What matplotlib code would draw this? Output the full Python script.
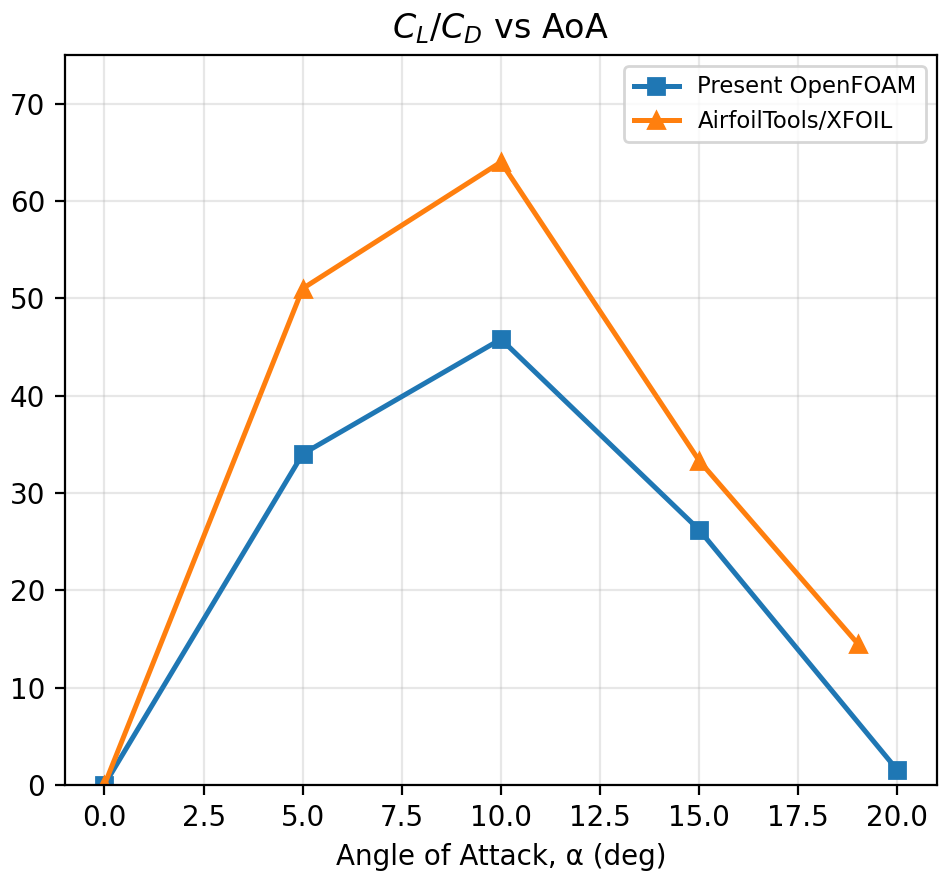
import matplotlib
matplotlib.use("Agg")
import matplotlib.pyplot as plt

aoa_foam = [0, 5, 10, 15, 20]
cl_cd_foam = [0.0, 34.0, 45.8, 26.2, 1.5]

aoa_xfoil = [0, 5, 10, 15, 19]
cl_cd_xfoil = [0.0, 51.0, 64.0, 33.3, 14.5]

fig = plt.figure(figsize=(9.39 / 2, 8.73 / 2), dpi=200)
ax = fig.add_axes([0.069, 0.101, 0.929, 0.836])

ax.plot(aoa_foam, cl_cd_foam, marker="s", linewidth=1.8, markersize=6, label="Present OpenFOAM")
ax.plot(aoa_xfoil, cl_cd_xfoil, marker="^", linewidth=1.8, markersize=6, label="AirfoilTools/XFOIL")

ax.set_ylim(0, 75)
ax.set_xlabel("Angle of Attack, α (deg)")
ax.set_title("$C_L/C_D$ vs AoA")
ax.grid(True, alpha=0.3)
ax.legend(loc="upper right", fontsize=8.2)

fig.savefig("out.png", dpi=200)
